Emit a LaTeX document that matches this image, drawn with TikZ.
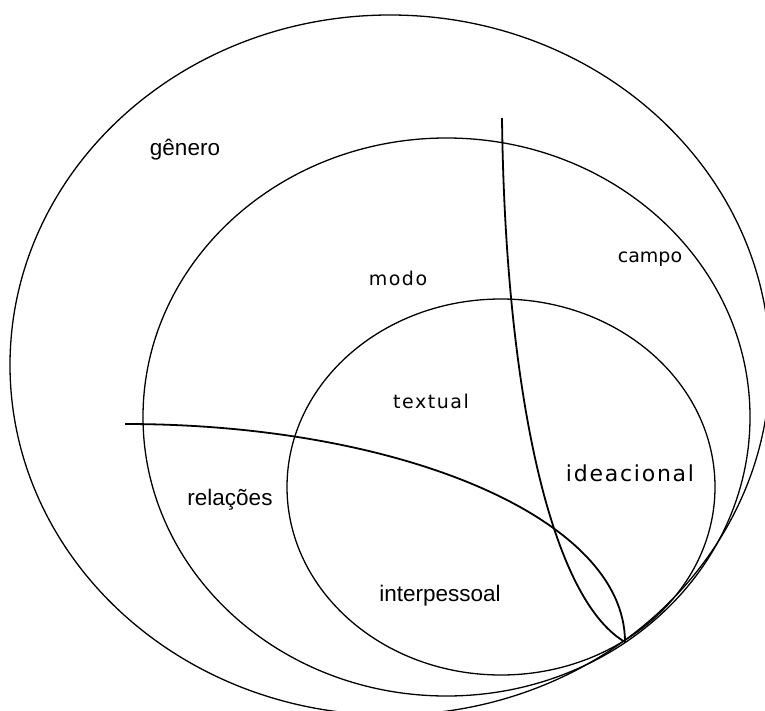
\documentclass[tikz,border=0pt]{standalone}
\usepackage{fontspec}
\setmainfont{Liberation Sans}
\newfontfamily\verafont{DejaVu Sans}
\newfontfamily\verawide{DejaVu Sans}[LetterSpace=8]
\usepackage{tikz}

\begin{document}
\begin{tikzpicture}[x=1pt,y=-1pt,
		ring/.style={line width=1.3pt},
		cut/.style={line width=1.8pt},
		lbl/.style={inner sep=0pt}]
	\useasboundingbox (0,0) rectangle (765,711);
	\clip (0,0) rectangle (765,711);
	% Ellipses
	\draw[ring] (390,365) ellipse [x radius=380, y radius=350];
	\draw[ring] (446.5,417) ellipse [x radius=303.5, y radius=279];
	\draw[ring] (501,487) ellipse [x radius=214, y radius=188];
	% Points
	\coordinate (tip) at (625,642);
	\coordinate (upper) at (502,118);
	\coordinate (side) at (125,424);
	% Dividing curves
	\draw[cut] (upper) .. controls (505,380) and (548,597) .. (tip);
	\draw[cut] (side) .. controls (400,424) and (625,518) .. (tip);
	% Labels
	\node[lbl, font={\fontsize{22.5}{27}\selectfont}] (genero) at (185,150) {gênero};
	\node[lbl, font={\verafont\fontsize{19}{23}\selectfont}] (campo) at (650,259) {campo};
	\node[lbl, font={\verawide\fontsize{19}{23}\selectfont}] (modo) at (398,278) {modo};
	\node[lbl, font={\verawide\fontsize{19}{23}\selectfont}] (textual) at (431,401) {textual};
	\node[lbl, font={\verawide\fontsize{22}{26}\selectfont}] (ideacional) at (630,473) {ideacional};
	\node[lbl, font={\fontsize{22.5}{27}\selectfont}] (relacoes) at (230,500) {relações};
	\node[lbl, font={\fontsize{22.5}{27}\selectfont}] (interpessoal) at (440,596) {interpessoal};
\end{tikzpicture}
\end{document}
